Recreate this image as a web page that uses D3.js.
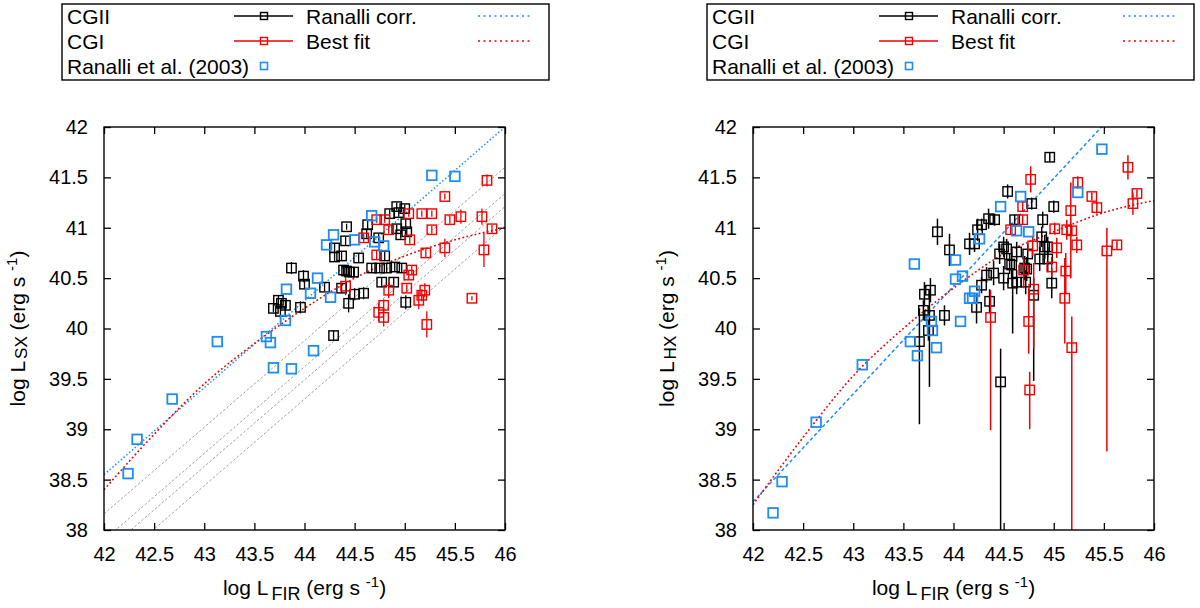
<!DOCTYPE html>
<html>
<head>
<meta charset="utf-8">
<script src="https://cdn.jsdelivr.net/npm/d3@7"></script>
<style>
  body { margin: 0; background: #fff; }
  text { font-family: "Liberation Sans", Arial, sans-serif; fill: #000; }
</style>
</head>
<body>
<svg id="chart" width="1200" height="608"></svg>
<script>
// ---- data ----
// points: [log LFIR, log L, err below, err above]
var xTicks = [42, 42.5, 43, 43.5, 44, 44.5, 45, 45.5, 46];
var yTicks = [38, 38.5, 39, 39.5, 40, 40.5, 41, 41.5, 42];

// left panel (soft X)
var sxCGII = [
  [44.92,41.21,.04,.04],[45.00,41.19,.04,.04],[44.85,41.14,.04,.04],[44.94,41.15,.04,.04],
  [44.42,41.01,.03,.03],[44.63,41.03,.04,.04],[45.01,41.04,.04,.04],[44.92,40.99,.04,.04],
  [45.02,40.96,.04,.04],[44.96,40.93,.04,.04],[44.62,40.94,.04,.04],[44.74,40.90,.04,.04],
  [44.41,40.87,.04,.04],[44.30,40.80,.04,.04],[44.30,40.71,.04,.04],[44.37,40.72,.04,.04],
  [44.54,40.70,.04,.04],[44.80,40.72,.04,.04],[44.39,40.58,.05,.05],[44.49,40.56,.05,.05],
  [44.45,40.56,.04,.04],[44.67,40.60,.05,.05],[44.75,40.60,.05,.05],[44.82,40.60,.05,.05],
  [44.90,40.61,.05,.05],[44.97,40.60,.05,.05],[43.99,40.52,.06,.06],[43.87,40.60,.06,.06],
  [44.00,40.44,.05,.05],[44.20,40.41,.04,.04],[44.50,40.34,.06,.06],[44.59,40.35,.06,.06],
  [44.44,40.25,.09,.09],[44.77,40.46,.05,.05],[44.89,40.46,.05,.05],[45.01,40.26,.07,.07],
  [44.29,39.93,.05,.05],[43.74,40.28,.05,.05],[43.77,40.25,.05,.05],[43.81,40.23,.05,.05],
  [43.69,40.20,.04,.04],[43.76,40.17,.07,.07],[43.96,40.21,.06,.06],[44.37,40.40,.05,.05],
  [44.42,40.57,.04,.04]
];
var sxCGI = [
  [45.82,41.47,.06,.06],[45.40,41.31,.03,.03],[45.04,41.14,.03,.03],[45.17,41.14,.03,.03],
  [45.27,41.14,.03,.03],[44.72,41.08,.03,.03],[44.80,41.08,.03,.03],[45.45,41.08,.04,.04],
  [45.56,41.11,.07,.07],[45.77,41.11,.08,.08],[45.87,40.99,.04,.04],[45.27,40.98,.04,.04],
  [44.84,40.98,.04,.04],[45.05,40.88,.04,.04],[44.59,40.90,.04,.04],[45.21,40.75,.04,.04],
  [45.40,40.80,.09,.09],[45.79,40.78,.17,.17],[44.72,40.73,.04,.04],[45.07,40.58,.04,.04],
  [45.04,40.53,.04,.04],[44.84,40.38,.08,.08],[45.02,40.40,.04,.04],[45.20,40.38,.07,.07],
  [45.17,40.33,.06,.06],[45.14,40.28,.09,.09],[44.79,40.23,.06,.06],[44.74,40.16,.09,.09],
  [44.79,40.11,.09,.09],[45.22,40.04,.13,.13],[45.67,40.30,.02,.02],[44.41,40.42,.09,.09]
];
var sxRanalli = [
  [42.24,38.56],[42.33,38.90],[42.68,39.30],[43.13,39.87],[43.62,39.92],[43.66,39.86],
  [43.69,39.61],[43.87,39.60],[43.82,40.39],[43.81,40.08],[44.09,39.78],[44.06,40.35],
  [44.26,40.31],[44.13,40.50],[44.22,40.83],[44.29,40.93],[44.50,40.88],[44.70,40.86],
  [44.79,40.82],[44.67,41.12],[45.27,41.52],[45.50,41.51]
];
var sxRanalliCorr = [[42, 38.55], [46, 42.0]];
var sxBestFit = [38.40, 38.95, 39.45, 39.85, 40.20, 40.50, 40.72, 40.88, 41.00];
var sxGreyLines = [
  [[42, 38.16], [46, 41.60]],
  [[42, 37.90], [46, 41.34]],
  [[42, 37.77], [46, 41.21]],
  [[42, 37.58], [46, 41.02]]
];

// right panel (hard X)
var hxCGII = [
  [44.96,41.70,.05,.05],[44.54,41.36,.07,.07],[44.78,41.24,.06,.06],[45.00,41.21,.06,.06],
  [44.61,41.08,.05,.05],[44.89,41.08,.08,.08],[43.84,40.96,.13,.13],[43.96,40.78,.16,.16],
  [44.35,41.09,.10,.10],[44.41,41.08,.06,.06],[44.28,41.03,.06,.06],[44.24,40.98,.11,.11],
  [44.16,40.84,.11,.11],[44.21,40.84,.08,.08],[44.50,40.81,.10,.10],[44.46,40.74,.10,.10],
  [44.63,40.76,.10,.10],[44.58,40.63,.13,.13],[44.33,40.53,.08,.08],[44.40,40.55,.12,.12],
  [44.50,40.50,.12,.12],[44.59,40.45,.50,.15],[44.28,40.43,.08,.08],[44.36,40.27,.12,.12],
  [44.23,40.21,.16,.14],[43.71,40.34,.12,.12],[43.77,40.38,.12,.12],[43.70,40.18,.10,.10],
  [43.76,40.13,.71,.25],[43.75,39.98,.10,.10],[43.66,39.87,.82,.33],[43.91,40.13,.10,.10],
  [44.47,39.47,1.47,.33],[44.80,40.33,.85,.17],[44.98,40.45,.15,.15],[44.72,40.46,.12,.12],
  [44.56,40.64,.10,.10],[44.73,40.59,.12,.12],[44.86,40.69,.12,.12],[44.94,40.69,.12,.12],
  [44.91,40.81,.12,.12],[44.53,40.79,.10,.10],[44.88,40.91,.10,.10],[44.94,40.81,.10,.10],
  [44.71,40.60,.12,.12],[44.74,40.74,.10,.10],[44.63,40.46,.12,.12]
];
var hxCGI = [
  [45.74,41.60,.12,.12],[44.77,41.48,.13,.13],[45.24,41.45,.06,.06],[45.83,41.34,.04,.04],
  [45.79,41.24,.11,.11],[45.38,41.31,.04,.04],[45.43,41.20,.06,.06],[44.69,41.21,.05,.05],
  [45.17,41.17,.67,.28],[44.69,41.08,.05,.05],[45.01,40.99,.06,.06],[45.13,40.98,.10,.10],
  [45.18,40.97,.05,.05],[44.57,40.98,.05,.05],[44.79,40.82,.10,.10],[45.03,40.80,.10,.10],
  [45.23,40.83,.08,.08],[45.63,40.83,.04,.04],[45.53,40.77,1.99,.23],[44.98,40.61,.10,.10],
  [45.12,40.57,.22,.18],[44.70,40.58,.18,.12],[44.80,40.39,.59,.26],[45.11,40.30,.45,.40],
  [44.37,40.11,1.12,.27],[44.75,40.07,.32,.33],[44.76,39.39,.39,.18],[45.18,39.81,1.81,.31]
];
var hxRanalli = [
  [42.20,38.17],[42.29,38.48],[42.63,39.07],[43.09,39.64],[43.57,39.87],[43.64,39.73],
  [43.78,40.07],[43.79,39.98],[43.83,39.81],[44.07,40.07],[44.02,40.49],[44.16,40.30],
  [43.61,40.64],[44.02,40.68],[44.09,40.52],[44.26,40.89],[44.47,41.21],[44.67,41.31],
  [44.63,40.97],[44.21,40.37],[44.19,40.30],[45.48,41.78],[45.24,41.35],[44.75,40.96]
];
var hxRanalliCorr = [[42, 38.28], [46, 42.56]];
var hxBestFit = [38.25, 38.92, 39.53, 40.00, 40.40, 40.74, 40.96, 41.15, 41.27];

var legendLabels = ["CGII", "CGI", "Ranalli et al. (2003)"];
var legendLineLabels = ["Ranalli corr.", "Best fit"];

// ---- drawing ----
var BLACK = "#000", RED = "#f00000", BLUE = "#1e8cf0", GREY = "#a0a0a0";
var FONT = "Liberation Sans, Arial, sans-serif";
var svg = d3.select("#chart");
var width = 401, height = 403;

var panels = [
  { left: 104, legendX: 62, sub: "SX", cgii: sxCGII, cgi: sxCGI, ran: sxRanalli,
    corr: sxRanalliCorr, fit: sxBestFit, grey: sxGreyLines, corrDash: "1.5,2.2", ebw: 1.3 },
  { left: 753, legendX: 707, sub: "HX", cgii: hxCGII, cgi: hxCGI, ran: hxRanalli,
    corr: hxRanalliCorr, fit: hxBestFit, grey: [], corrDash: "3.5,2.5", ebw: 1.5 }
];

panels.forEach(function(p, pi) {
  var x = d3.scaleLinear().domain([42, 46]).range([0, width]);
  var y = d3.scaleLinear().domain([38, 42]).range([height, 0]);

  var g = svg.append("g").attr("transform", "translate(" + p.left + ",127)");

  g.append("clipPath").attr("id", "clip" + pi)
    .append("rect").attr("width", width).attr("height", height);

  // axes with inward ticks
  g.append("g").attr("transform", "translate(0," + height + ")")
    .call(d3.axisBottom(x).tickValues(xTicks).tickSize(-7).tickSizeOuter(0).tickPadding(17)
      .tickFormat(function(d) { return String(d); }));
  g.append("g").call(d3.axisTop(x).tickValues(xTicks).tickSize(-7).tickSizeOuter(0).tickFormat(""));
  g.append("g")
    .call(d3.axisLeft(y).tickValues(yTicks).tickSize(-7).tickSizeOuter(0).tickPadding(16)
      .tickFormat(function(d) { return String(d); }));
  g.append("g").attr("transform", "translate(" + width + ",0)")
    .call(d3.axisRight(y).tickValues(yTicks).tickSize(-7).tickSizeOuter(0).tickFormat(""));

  g.selectAll(".domain").remove();
  g.selectAll(".tick line").attr("stroke", "#000").attr("stroke-width", 1.3);
  g.selectAll(".tick text").attr("font-size", 20).attr("font-family", FONT).attr("fill", "#222");

  var plot = g.append("g").attr("clip-path", "url(#clip" + pi + ")");

  var line = d3.line().x(function(d) { return x(d[0]); }).y(function(d) { return y(d[1]); });

  // grey reference lines
  plot.selectAll(".grey").data(p.grey).enter().append("path")
    .attr("d", line).attr("fill", "none").attr("stroke", GREY)
    .attr("stroke-width", 1).attr("stroke-dasharray", "2.5,2");

  // ranalli corrected relation
  plot.append("path").attr("d", line(p.corr)).attr("fill", "none")
    .attr("stroke", BLUE).attr("stroke-width", 1.5).attr("stroke-dasharray", p.corrDash);

  // best fit curve
  var fitPts = xTicks.map(function(v, i) { return [v, p.fit[i]]; });
  plot.append("path").attr("d", line.curve(d3.curveMonotoneX)(fitPts)).attr("fill", "none")
    .attr("stroke", RED).attr("stroke-width", 1.6).attr("stroke-dasharray", "1.8,2.4");
  line.curve(d3.curveLinear);

  function drawErr(data, color) {
    var s = plot.append("g");
    s.selectAll("line").data(data).enter().append("line")
      .attr("x1", function(d) { return x(d[0]); })
      .attr("x2", function(d) { return x(d[0]); })
      .attr("y1", function(d) { return y(d[1] - d[2]); })
      .attr("y2", function(d) { return y(d[1] + d[3]); })
      .attr("stroke", color).attr("stroke-width", p.ebw);
    s.selectAll("rect").data(data).enter().append("rect")
      .attr("x", function(d) { return x(d[0]) - 4.7; })
      .attr("y", function(d) { return y(d[1]) - 4.7; })
      .attr("width", 9.4).attr("height", 9.4)
      .attr("fill", "none").attr("stroke", color).attr("stroke-width", 1.4);
  }
  drawErr(p.cgii, BLACK);
  drawErr(p.cgi, RED);

  plot.append("g").selectAll("rect").data(p.ran).enter().append("rect")
    .attr("x", function(d) { return x(d[0]) - 4.8; })
    .attr("y", function(d) { return y(d[1]) - 4.8; })
    .attr("width", 9.6).attr("height", 9.6)
    .attr("fill", "none").attr("stroke", BLUE).attr("stroke-width", 1.8);

  // frame
  g.append("rect").attr("width", width).attr("height", height)
    .attr("fill", "none").attr("stroke", "#000").attr("stroke-width", 1.4);

  // axis titles
  var xt = g.append("text").attr("x", width / 2).attr("y", 468)
    .attr("text-anchor", "middle").attr("font-size", 21).attr("fill", "#222");
  xt.append("tspan").text("log L");
  xt.append("tspan").attr("dx", 3).attr("dy", 5).attr("font-size", 18).text("FIR");
  xt.append("tspan").attr("dy", -5).text(" (erg s ");
  xt.append("tspan").attr("dy", -8).attr("font-size", 15).text("-1");
  xt.append("tspan").attr("dy", 8).text(")");

  var yt = g.append("text").attr("transform", "translate(" + (-79) + "," + (height / 2) + ") rotate(-90)")
    .attr("text-anchor", "middle").attr("font-size", 21).attr("fill", "#222");
  yt.append("tspan").text("log L");
  yt.append("tspan").attr("dx", 2).attr("dy", 2).attr("font-size", 17).text(p.sub);
  yt.append("tspan").attr("dy", -2).text(" (erg s ");
  yt.append("tspan").attr("dy", -8).attr("font-size", 15).text("-1");
  yt.append("tspan").attr("dy", 8).text(")");

  // legend
  var lg = svg.append("g").attr("transform", "translate(" + p.legendX + ",4)");
  lg.append("rect").attr("width", 487).attr("height", 76)
    .attr("fill", "#fff").attr("stroke", "#000").attr("stroke-width", 1.4);
  var rows = [12, 37, 62];
  legendLabels.forEach(function(t, i) {
    lg.append("text").attr("x", 5).attr("y", rows[i] + 7.5).attr("font-size", 21)
      .attr("fill", "#222").text(t);
  });
  [BLACK, RED].forEach(function(c, i) {
    lg.append("line").attr("x1", 172).attr("x2", 231).attr("y1", rows[i]).attr("y2", rows[i])
      .attr("stroke", c).attr("stroke-width", 1.3);
    lg.append("rect").attr("x", 198.5).attr("y", rows[i] - 3.5).attr("width", 7).attr("height", 7)
      .attr("fill", "none").attr("stroke", c).attr("stroke-width", 1.4);
    lg.append("text").attr("x", 244).attr("y", rows[i] + 7.5).attr("font-size", 21)
      .attr("fill", "#222").text(legendLineLabels[i]);
  });
  lg.append("line").attr("x1", 416).attr("x2", 471).attr("y1", rows[0]).attr("y2", rows[0])
    .attr("stroke", BLUE).attr("stroke-width", 1.4).attr("stroke-dasharray", "2,3.5");
  lg.append("line").attr("x1", 416).attr("x2", 471).attr("y1", rows[1]).attr("y2", rows[1])
    .attr("stroke", RED).attr("stroke-width", 1.4).attr("stroke-dasharray", "2,3.5");
  lg.append("rect").attr("x", 198.5).attr("y", rows[2] - 3.5).attr("width", 7).attr("height", 7)
    .attr("fill", "none").attr("stroke", BLUE).attr("stroke-width", 1.6);
});
</script>
</body>
</html>
